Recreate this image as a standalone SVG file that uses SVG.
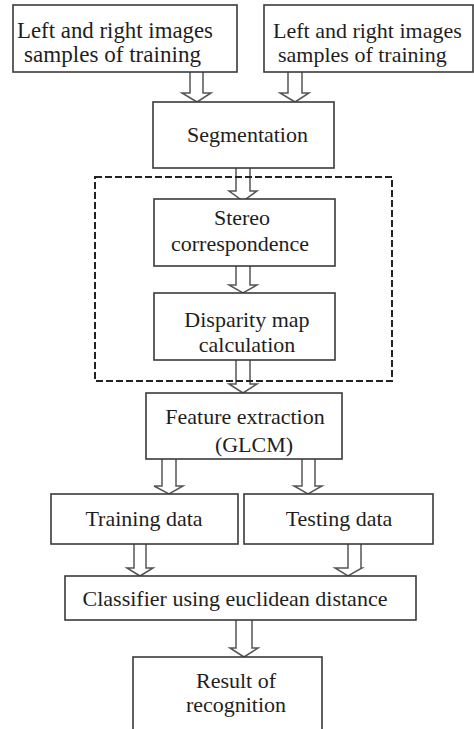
<svg xmlns="http://www.w3.org/2000/svg" width="474" height="729" viewBox="0 0 474 729">
<style>
.box{fill:#fff;stroke:#3a3a3a;stroke-width:1.6}
.arr{fill:#fff;stroke:#555;stroke-width:1.5;stroke-linejoin:miter}
.dash{fill:none;stroke:#222;stroke-width:2;stroke-dasharray:7 3}
text{font-family:"Liberation Serif","Times New Roman",serif;font-size:22px;fill:#1e1e1e}
.big{font-size:23px}
</style>
<rect width="474" height="729" fill="#fff"/>
<g id="connectors">
<path class="arr" d="M190,72 V93 H182 L197,102 L211,93 H203 V72"/>
<path class="arr" d="M288,72 V93 H280 L295,102 L309,93 H302 V72"/>
<path class="arr" d="M236,168 V191 H229 L243,201 L257,191 H250 V168"/>
<path class="arr" d="M236,266 V285 H229 L243,293 L257,285 H250 V266"/>
<path class="arr" d="M236,360 V384 H229 L243,393 L257,384 H250 V360"/>
<path class="arr" d="M162,459 V486 H154 L169,494 L183,486 H176 V459"/>
<path class="arr" d="M302,459 V486 H294 L308,494 L322,486 H315 V459"/>
<path class="arr" d="M134,544 V568 H127 L140,576 L153,568 H146 V544"/>
<path class="arr" d="M348,544 V568 H335 L348,576 L362,568 H361 V544"/>
<path class="arr" d="M236,620 V648 H230 L244,657 L258,648 H252 V620"/>
</g>
<g id="group-stereo">
<rect class="dash" x="95" y="177" width="297" height="204"/>
</g>
<g id="input-left">
<rect class="box" x="13" y="5" width="224" height="67"/>
<text class="big" x="17" y="38" textLength="196" lengthAdjust="spacingAndGlyphs">Left and right images</text>
<text class="big" x="24" y="62" textLength="177" lengthAdjust="spacingAndGlyphs">samples of training</text>
</g>
<g id="input-right">
<rect class="box" x="264" y="5" width="209" height="67"/>
<text x="273" y="38">Left and right images</text>
<text x="278" y="62">samples of training</text>
</g>
<g id="segmentation">
<rect class="box" x="153" y="102" width="181" height="66"/>
<text x="187" y="142">Segmentation</text>
</g>
<g id="stereo">
<rect class="box" x="154" y="199" width="181" height="67"/>
<text x="242" y="225" text-anchor="middle">Stereo</text>
<text x="240" y="251" text-anchor="middle">correspondence</text>
</g>
<g id="disparity">
<rect class="box" x="154" y="293" width="181" height="67"/>
<text x="247" y="327" text-anchor="middle">Disparity map</text>
<text x="247" y="352" text-anchor="middle">calculation</text>
</g>
<g id="feature">
<rect class="box" x="146" y="393" width="196" height="66"/>
<text x="245" y="424" text-anchor="middle">Feature extraction</text>
<text x="254" y="452" text-anchor="middle">(GLCM)</text>
</g>
<g id="training">
<rect class="box" x="51" y="494" width="187" height="50"/>
<text x="144" y="526" text-anchor="middle">Training data</text>
</g>
<g id="testing">
<rect class="box" x="244" y="494" width="189" height="50"/>
<text x="339" y="526" text-anchor="middle">Testing data</text>
</g>
<g id="classifier">
<rect class="box" x="65" y="576" width="351" height="44"/>
<text x="235" y="606" text-anchor="middle">Classifier using euclidean distance</text>
</g>
<g id="result">
<rect class="box" x="133" y="657" width="189" height="80"/>
<text x="236" y="688" text-anchor="middle">Result of</text>
<text x="236" y="712" text-anchor="middle">recognition</text>
</g>
</svg>
